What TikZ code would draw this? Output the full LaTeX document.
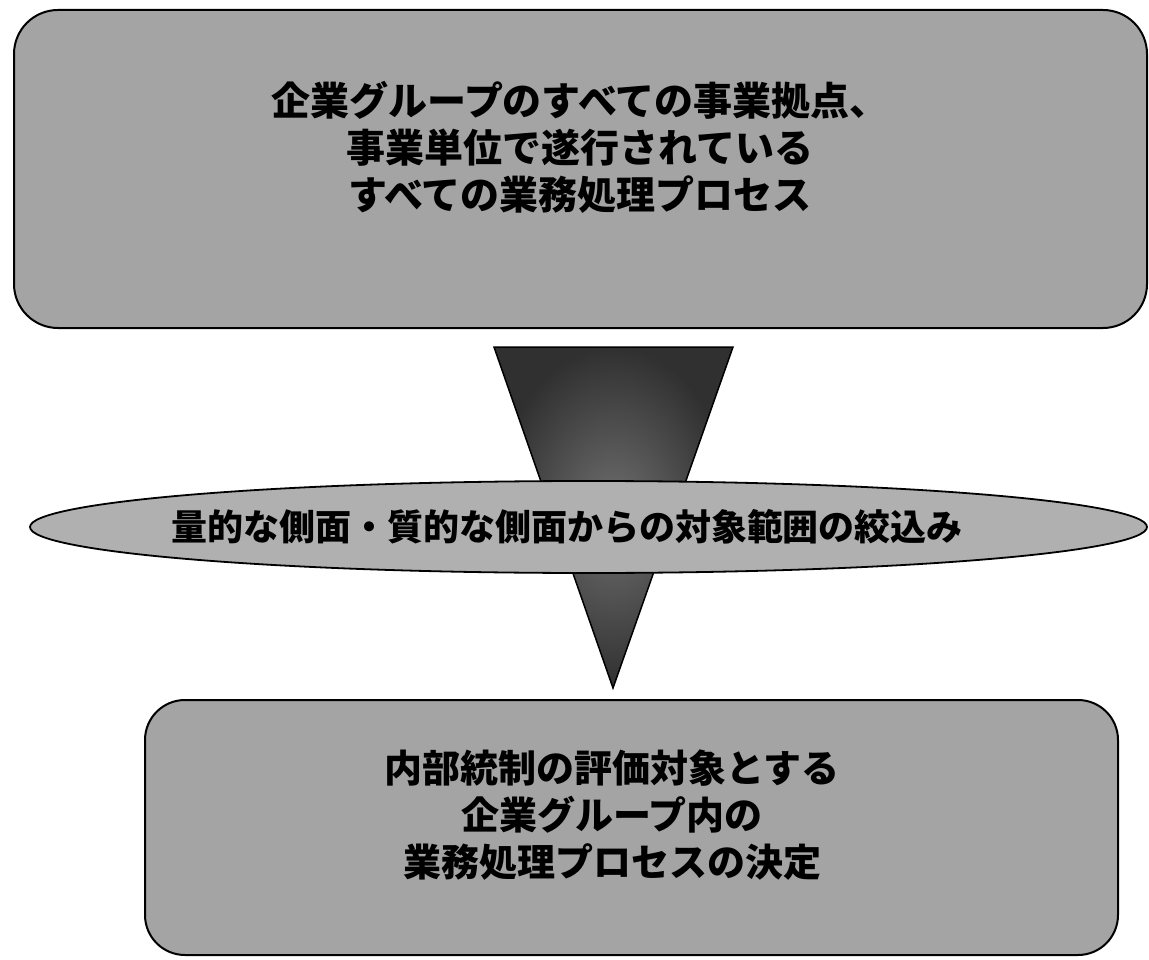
\documentclass[tikz,border=0pt]{standalone}
\usepackage{fontspec}
\newfontfamily\jp{Noto Sans CJK JP}
\usetikzlibrary{shapes.geometric}
\definecolor{boxgray}{HTML}{A4A4A4}
\definecolor{ellgray}{HTML}{B0B0B0}
\definecolor{tridark}{HTML}{303030}
\definecolor{trilight}{HTML}{707070}
\tikzset{
  panel/.style={draw=black, line width=2pt, fill=boxgray, rounded corners=44pt, inner sep=0pt},
  lens/.style={ellipse, draw=black, line width=1.8pt, fill=ellgray, inner sep=0pt},
  bigtext/.style={align=center, text=black, inner sep=0pt, font=\jp\bfseries\fontsize{39}{47}\selectfont},
  midtext/.style={align=center, text=black, inner sep=0pt, font=\jp\bfseries\fontsize{36}{44}\selectfont},
}
\begin{document}
\begin{tikzpicture}[x=1pt,y=-1pt]
\useasboundingbox (0,0) rectangle (1149,960);
\fill[white] (0,0) rectangle (1149,960);
% top panel
\node[panel, minimum width=1133pt, minimum height=318pt] (top) at (580.5,169) {};
\node[bigtext] (toptext) at (580,147) {企業グループのすべての事業拠点、\\事業単位で遂行されている\\すべての業務処理プロセス};
% funnel triangle
\coordinate (tl) at (494,347);
\coordinate (tr) at (733,347);
\coordinate (apex) at (613,688);
\shade[inner color=trilight, outer color=tridark, draw=black, line width=1.5pt] (tl) -- (tr) -- (apex) -- cycle;
% ellipse
\node[lens, minimum width=1117pt, minimum height=92pt] (lensnode) at (588.5,527) {};
\node[midtext] (lenstext) at (567,527) {量的な側面・質的な側面からの対象範囲の絞込み};
% bottom panel
\node[panel, rounded corners=40pt, minimum width=973pt, minimum height=255pt] (bottom) at (631.5,827.5) {};
\node[bigtext, font=\jp\bfseries\fontsize{38}{47}\selectfont] (bottomtext) at (612,815) {内部統制の評価対象とする\\企業グループ内の\\業務処理プロセスの決定};
\end{tikzpicture}
\end{document}
